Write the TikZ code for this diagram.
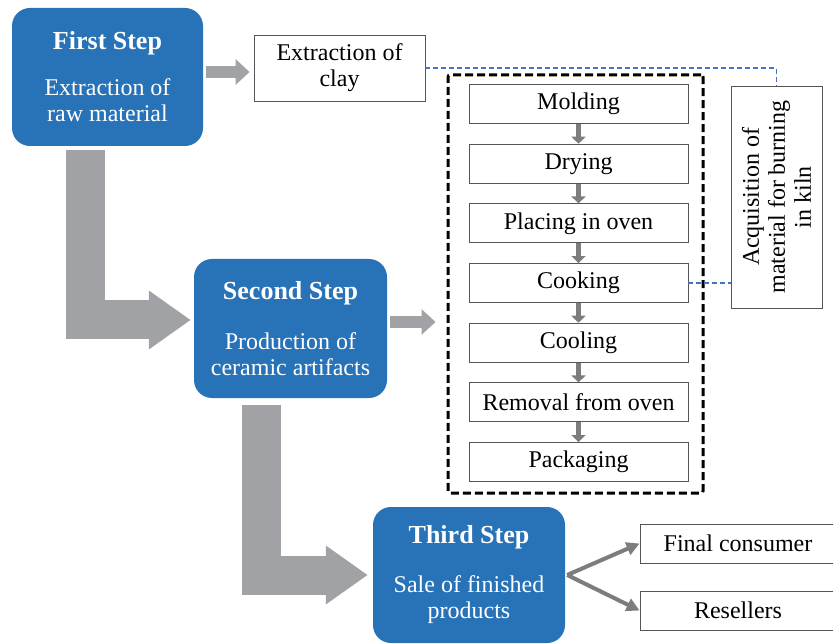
\documentclass[tikz,border=0pt]{standalone}
\usepackage{fontspec}
\setmainfont{Liberation Serif}
\usetikzlibrary{arrows.meta,calc,positioning}

\definecolor{stepblue}{RGB}{40,114,184}
\definecolor{blockgray}{RGB}{160,162,166}
\definecolor{tipgray}{RGB}{125,125,128}
\definecolor{framegray}{RGB}{85,85,85}
\definecolor{linkblue}{RGB}{68,114,196}

\begin{document}
\begin{tikzpicture}[x=1pt,y=-1pt,>=Triangle]
\tikzset{
  stepbox/.style={rounded corners=18pt,fill=stepblue,text=white,align=center,
    inner sep=0pt,font=\fontsize{24}{26}\selectfont},
  plain/.style={draw=framegray,line width=0.9pt,fill=white,align=center,
    inner sep=0pt,font=\fontsize{24}{26}\selectfont},
  task/.style={plain,minimum width=219pt,minimum height=39pt},
  block/.style={blockgray,line width=39pt,line join=miter,
    -{Triangle[length=42pt,width=56pt]}},
  push/.style={blockgray,line width=11.5pt,-{Triangle[length=14pt,width=25pt]}},
  steparrow/.style={tipgray,line width=5.5pt,-{Triangle[length=7pt,width=14pt]}},
  branch/.style={tipgray,line width=4pt,-{Triangle[length=13pt,width=13pt]}},
  link/.style={linkblue,line width=1.6pt,dash pattern=on 5pt off 3pt}
}
\fill[white] (0,0) rectangle (833,644);
\useasboundingbox (0,0) rectangle (833,644);

% ---------- the three main steps ----------
\node[stepbox,minimum width=191pt,minimum height=138pt] (first) at (107.5,77)
  {{\fontsize{26}{28}\selectfont\bfseries First Step}\\[20pt]Extraction of\\raw material};
\node[stepbox,minimum width=193pt,minimum height=139pt] (second) at (290.5,328.5)
  {{\fontsize{26}{28}\selectfont\bfseries Second Step}\\[24pt]Production of\\ceramic artifacts};
\node[stepbox,minimum width=192pt,minimum height=136pt] (third) at (469,575)
  {{\fontsize{26}{28}\selectfont\bfseries Third Step}\\[23pt]Sale of finished\\products};

% ---------- side boxes ----------
\node[plain,minimum width=171pt,minimum height=66pt] (clay) at (339.5,68) {Extraction of\\clay};
\node[plain,rotate=90,minimum width=222pt,minimum height=91pt] (acq) at (776.5,197)
  {Acquisition of\\material for burning\\in kiln};
\node[plain,minimum width=196pt,minimum height=39pt] (final) at (738,543.5) {Final consumer};
\node[plain,minimum width=196pt,minimum height=39pt] (resell) at (738,610.5) {Resellers};

% ---------- production stages inside the dashed frame ----------
\node[draw,line width=3pt,dash pattern=on 8pt off 4pt,rounded corners=2pt,
  minimum width=255pt,minimum height=418pt] (stage) at (575.5,284) {};
\foreach \n/\txt in {1/Molding,2/Drying,3/Placing in oven,4/Cooking,
                     5/Cooling,6/Removal from oven,7/Packaging}{
  \node[task] (t\n) at (578.5,{104+59.67*(\n-1)}) {\txt};
}
\foreach \a/\b in {1/2,2/3,3/4,4/5,5/6,6/7}{ \draw[steparrow] (t\a.south) -- (t\b.north); }

% ---------- block arrows between the steps ----------
\draw[block,shorten <=4pt,shorten >=3pt] ([xshift=-22.5pt]first.south) |- ([yshift=8.5pt]second.west);
\draw[block,shorten <=7pt,shorten >=5pt] ([xshift=-29.5pt]second.south) |- (third.west);
\draw[push] ($(first.east |- clay.west)+(3pt,-4pt)$) -- ($(clay.west)+(-4pt,-4pt)$);
\draw[push] ($(second.east)+(3pt,6.5pt)$) -- ($(second.east -| stage.west)+(-11pt,6.5pt)$);

% ---------- dashed links to the kiln material ----------
\draw[link] (clay.east) -| (acq.east);
\draw[link] (t4.east) -- (t4.east -| acq.north);

% ---------- sale branches ----------
\draw[branch] ([xshift=2pt]third.east) -- (final.west);
\draw[branch] ([xshift=2pt]third.east) -- (resell.west);
\end{tikzpicture}
\end{document}
